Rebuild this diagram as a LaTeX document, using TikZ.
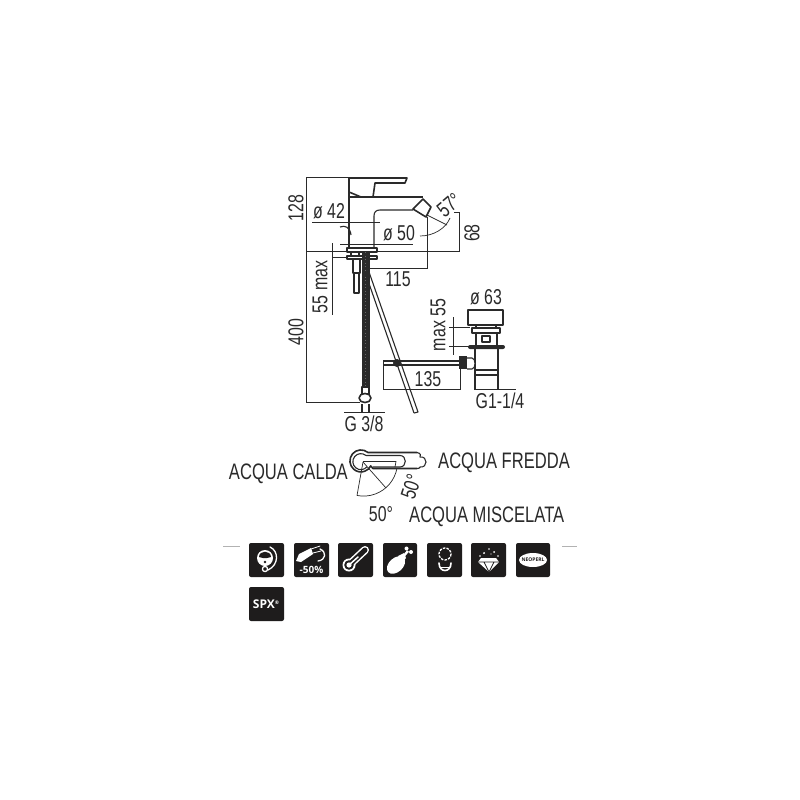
\documentclass[tikz,border=0pt]{standalone}
\usepackage{fontspec}
\setmainfont[FakeStretch=0.74]{Liberation Sans}
\newfontfamily\iconfont{Open Sans}
\definecolor{ink}{HTML}{2A2A2A}
\definecolor{tile}{HTML}{1E1C1C}
\tikzset{
  dim/.style={draw=ink,line width=0.7pt},
  part/.style={draw=ink,line width=1.1pt,line join=round},
  heavy/.style={draw=ink,line width=1.6pt,line join=round},
  lab/.style={text=ink,font=\fontsize{21.5}{22}\selectfont,inner sep=0pt},
  captext/.style={text=ink,font=\fontsize{22.4}{23}\selectfont,inner sep=0pt},
  tilebox/.style={fill=tile,rounded corners=2pt},
  glyph/.style={draw=white,line width=1.3pt,line cap=round,line join=round},
}
\begin{document}
\begin{tikzpicture}[x=1pt,y=-1pt]
\useasboundingbox (0,0) rectangle (800,800);
\fill[white] (0,0) rectangle (800,800);

% --- tap body
\draw[heavy,fill=white] (349,178) -- (407,178) -- (405,183) -- (375,183) -- (373,197) -- (361,197) -- (349,192) -- cycle;
\draw[part] (349,192) -- (349,247);
\draw[part] (349,197) -- (423,197);
\draw[part] (374,247) -- (374,216) .. controls (374,212) and (376,210) .. (380,210) -- (413,210);
\draw[heavy,fill=white] (423,199) -- (431,207) -- (426,217) -- (413,209) -- cycle;
\draw[part] (340,227) .. controls (345,225) and (350,227) .. (351,235);
\draw[part,fill=white] (347,248) rectangle (377,252);
\draw[heavy,fill=white] (347,256) rectangle (377,259);
\draw[part] (351,252) -- (351,256) (359,252) -- (359,256);
\draw[heavy,fill=white] (353,259) rectangle (360,273);
\draw[part,fill=white] (354,273) rectangle (359,293);

% --- hose
\fill[ink] (361.5,251) rectangle (369.5,387);
\draw[gray!70!ink,line width=0.5pt,dash pattern=on 1pt off 2.5pt] (365.5,252) -- (365.5,386);
\draw[part,fill=white] (362,387) rectangle (369,394);
\draw[heavy,fill=white] (359,398) .. controls (359,392) and (371,392) .. (371,398) .. controls (371,404) and (359,404) .. (359,398) -- cycle;
\draw[part] (362,404) -- (362,412) (369,404) -- (369,412);

% --- pop-up rod
\draw[part] (365,272) -- (414,413);
\draw[part] (369,272) -- (418,412) -- (414,413);
\draw[part] (383,361) -- (459,361) (383,365) -- (459,365);
\fill[ink] (397,363) circle (4);

% --- waste
\draw[part,fill=white] (468,310) rectangle (503,325);
\draw[part,fill=white] (472,328) rectangle (500,333);
\draw[part] (476,325) -- (476,328) (496,325) -- (496,328);
\draw[part] (476,333) -- (476,345) (497,333) -- (497,345);
\draw[part] (482,336) rectangle (490,342);
\fill[ink,rounded corners=2pt] (468,345) rectangle (505,349);
\draw[part] (475,349) -- (475,390) (498,349) -- (498,390);
\draw[part] (475,370) -- (498,370) (475,375) -- (498,375);
\draw[part,fill=white] (467,358) -- (472,358) .. controls (476,358) and (476,369) .. (472,369) -- (467,369);
\fill[ink] (459,356) rectangle (467,369);

% --- dimension lines
\draw[dim] (349,177.5) -- (306.5,177.5) -- (306.5,402) -- (360,402);
\draw[dim] (306.5,251) -- (460,251);
\draw[dim] (454,212.5) -- (459,212.5) -- (459,251);
\draw[dim] (312,222) -- (380,222);
\draw[dim] (340,244) -- (413,244);
\draw[dim] (332,243) -- (332,315);
\draw[dim] (332,257) -- (347,257);
\draw[dim] (427,217) -- (427,268) -- (368,268);
\draw[dim] (427,215) -- (447,225);
\draw[dim] (450,218) .. controls (446,228) and (434,236) .. (420,236);
\draw[dim] (383,362) -- (383,389) -- (460,389) -- (460,369);
\draw[dim] (344,412) -- (385,412);
\draw[dim] (453,317) -- (453,355);
\draw[dim] (449,327) -- (470,327);
\draw[dim] (449,346) -- (470,346);
\draw[dim] (474,389) -- (516,389);

% --- labels
\node[lab,rotate=90] (l128) at (296,208) {128};
\node[lab] (l42) at (329,211) {ø 42};
\node[lab] (l50) at (399,233) {ø 50};
\node[lab,rotate=40] (l57) at (449,205) {57°};
\node[lab,rotate=90] (l68) at (472,233) {68};
\node[lab] (l115) at (398,279) {115};
\node[lab,rotate=90] (l55m) at (320,287) {55 max};
\node[lab,rotate=90] (l400) at (296,332) {400};
\node[lab] (l135) at (428,379) {135};
\node[lab] (lg38) at (364,424) {G 3/8};
\node[lab,rotate=90] (lm55) at (438,325) {max 55};
\node[lab] (l63) at (486,297) {ø 63};
\node[lab] (lg14) at (500,401) {G1-1/4};

% --- lever plan
\draw[heavy] (417,452.5) -- (368,452.5) arc[start angle=-50,end angle=-333,radius=11] -- (373,468.5) -- (417,468.5);
\draw[part] (417,452.5) .. controls (421,453) and (421,456) .. (420,457) .. controls (428,456) and (428,468) .. (420,467) .. controls (420,468) and (419,468.5) .. (417,468.5);
\draw[part] (366,455.5) arc[start angle=-50,end angle=-320,radius=8] (366,455.5) -- (400,455.5) .. controls (407,455.5) and (407,467) .. (400,467) -- (373,467);
\draw[dim] (363,461.5) -- (396,461.5) -- (395,467);
\draw[dim] (397,468) arc[start angle=10,end angle=101,radius=34];
\draw[dim] (363,462) -- (357,495.5);
\draw[dim] (363,462) -- (386,488);

\node[captext,anchor=east] (calda) at (348,474) {ACQUA CALDA};
\node[captext,anchor=west] (fredda) at (438,463) {ACQUA FREDDA};
\node[captext,anchor=west] (misc) at (409,517) {ACQUA MISCELATA};
\node[lab] (a50a) at (381,514) {50°};
\node[lab,rotate=72] (a50b) at (411,487) {50°};

% --- side dashes
\draw[draw=gray!60,line width=0.6pt] (223,546) -- (240,546);
\draw[draw=gray!60,line width=0.6pt] (562,546) -- (577,546);

% --- icon 1: mask
\fill[tilebox] (249,543) rectangle (284,577);
\fill[white] (265,558) circle (8);
\fill[tile] (259,557) .. controls (259,550) and (271,550) .. (271,557) -- (267,558) -- (263,558) -- cycle;
\fill[tile] (265,562) circle (1.3);
\draw[glyph] (265,569) circle (2.6);
\draw[glyph] (270,547) .. controls (279,551) and (279,565) .. (268,570);

% --- icon 2: -50%
\fill[tilebox] (294,543) rectangle (329,577);
\fill[white] (296,561) -- (299,554) -- (311,548) -- (313,554) -- (301,562) -- cycle;
\draw[glyph,line width=0.8pt] (311,549) -- (320,546) (313,553) -- (321,551);
\draw[glyph] (320,549) .. controls (327,552) and (326,560) .. (318,561);
\node[text=white,font=\iconfont\bfseries\fontsize{10}{10}\selectfont,inner sep=0pt] (i50) at (311.5,569.5) {-50\%};

% --- icon 3: thermometer
\fill[tilebox] (338,543) rectangle (373,577);
\draw[white,line width=8pt,line cap=round] (349,565) -- (365,550);
\fill[white] (349,565) circle (6.5);
\draw[tile,line width=5pt,line cap=round] (349,565) -- (365,550);
\fill[tile] (349,565) circle (4.8);
\fill[white] (349,565) circle (2.6);
\draw[white,line width=1.5pt,line cap=round] (349,565) -- (358,557);

% --- icon 4: chicken leg
\fill[tilebox] (383,543) rectangle (417,577);
\fill[white,rotate around={42:(396,565)}] (396,565) ellipse (10.5 and 7);
\fill[white] (398,556) -- (404,553) -- (406,558) -- (402,563) -- cycle;
\draw[white,line width=2.4pt] (402,558) -- (408,551);
\fill[white] (406.5,548.5) circle (2) (411,552) circle (2);

% --- icon 5: rings
\fill[tilebox] (427,543) rectangle (462,577);
\draw[glyph,dash pattern=on 2.5pt off 1.2pt,line cap=butt] (445,554) circle (6);
\draw[glyph,line width=1.6pt] (439,563) .. controls (439,573) and (451,573) .. (451,563);
\draw[glyph,line width=1pt] (440,567) -- (450,567);

% --- icon 6: diamond
\fill[tilebox] (471,543) rectangle (506,577);
\fill[white] (481,558) -- (496,558) -- (499,562) -- (489,572) -- (478,562) -- cycle;
\draw[tile,line width=0.7pt] (478,562) -- (499,562) (484,562) -- (489,572) -- (494,562);
\fill[white] (484,553) circle (1) (489,549) circle (0.8) (494,552) circle (1) (480,556) circle (0.8) (498,556) circle (0.8) (491,554) circle (0.7);

% --- icon 7: oval badge
\fill[tilebox] (516,543) rectangle (550,577);
\fill[white] (533,560) ellipse (14 and 7);
\node[text=tile,font=\iconfont\bfseries\fontsize{5}{5}\selectfont,inner sep=0pt] (ineo) at (533,560) {NEOPERL};

% --- icon 8: SPX
\fill[tilebox] (249,587) rectangle (284,621);
\node[text=white,font=\iconfont\bfseries\fontsize{12}{12}\selectfont,inner sep=0pt] (ispx) at (266,604) {SPX\raisebox{3.5pt}{\fontsize{5}{5}\selectfont®}};
\end{tikzpicture}
\end{document}
